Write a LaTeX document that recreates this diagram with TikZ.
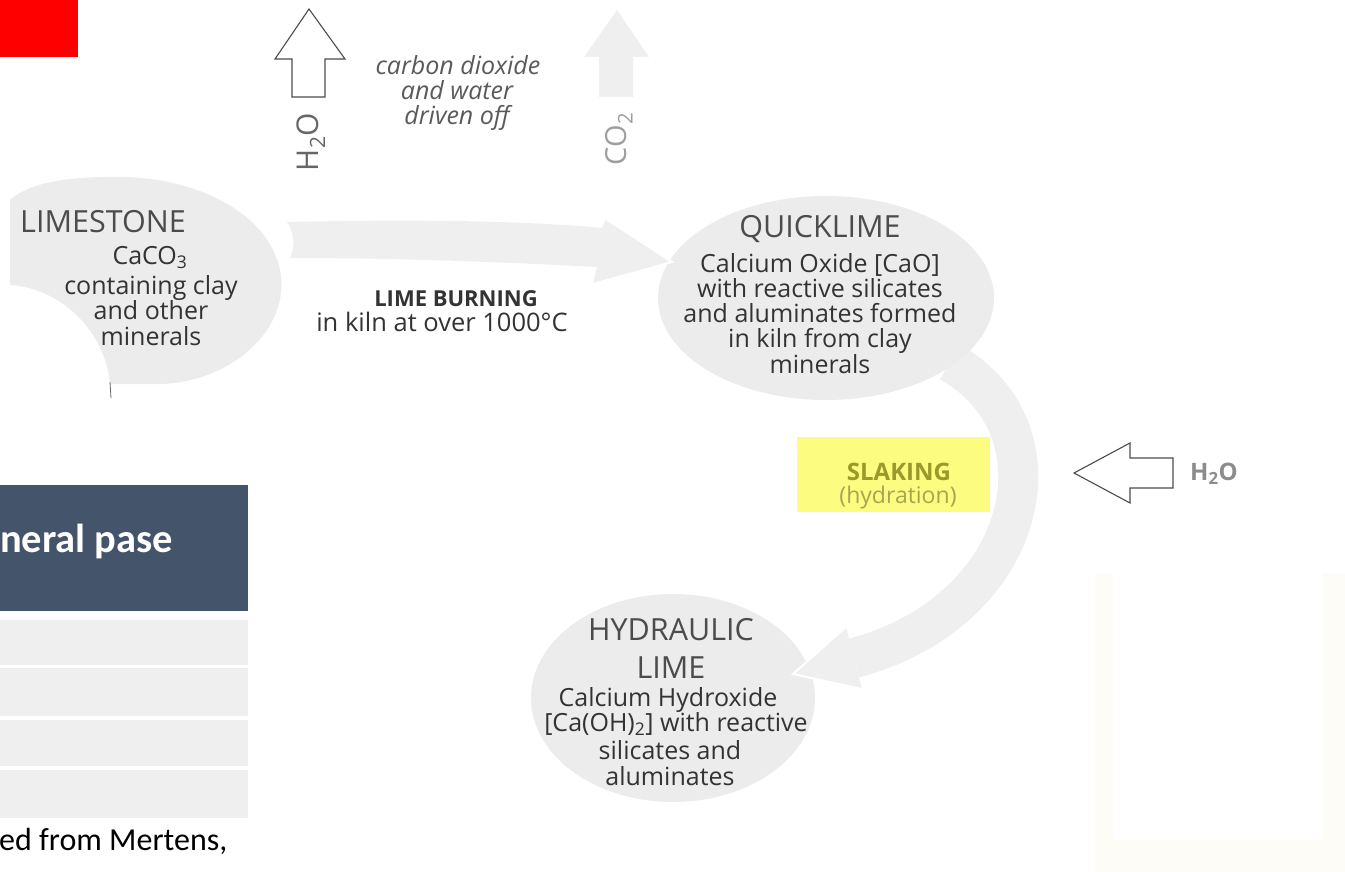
\documentclass[tikz,border=0pt]{standalone}
\usepackage{fontspec}
\setmainfont{Open Sans}
\newfontfamily\calib{Carlito}
\definecolor{blobgray}{HTML}{ECECEC}
\definecolor{arrowgray}{HTML}{EFEFEF}
\definecolor{bodytext}{HTML}{333333}
\definecolor{headtext}{HTML}{4C4C4C}
\definecolor{itext}{HTML}{5A5A5A}
\definecolor{hdrblue}{HTML}{44546A}
\definecolor{rowgray}{HTML}{EFEFEF}
\definecolor{hilite}{HTML}{FCFC80}
\definecolor{olive1}{HTML}{9A9A2C}
\definecolor{olive2}{HTML}{A6A650}
\definecolor{beige}{HTML}{FEFCF7}
\begin{document}
\begin{tikzpicture}[x=1pt,y=-1pt,
  body/.style={font=\fontsize{25}{26}\selectfont, text=bodytext, anchor=base, inner sep=0pt},
  headline/.style={font=\fontsize{30.5}{31}\selectfont, text=headtext, anchor=base, inner sep=0pt},
  itl/.style={font=\itshape\fontsize{25}{26}\selectfont, text=itext, anchor=base, inner sep=0pt},
  outl/.style={draw=black!70, line width=1.1pt, fill=white, line join=miter},
  row/.style={fill=rowgray, draw=none}]
\useasboundingbox (0,0) rectangle (1345,872);
% faint background panel on the right
\fill[beige] (1095,573) rectangle (1345,872);
\fill[white] (1113,573) rectangle (1322,840);
% red box
\fill[red] (0,0) rectangle (78,57);
% top arrows
\draw[outl] (309,9) -- (345,59) -- (325,59) -- (325,97) -- (292,97) -- (292,59) -- (275,59) -- cycle;
\node[rotate=90, font=\fontsize{30}{30}\selectfont, text=black!60, inner sep=0pt] (h2oup) at (311,142) {H\textsubscript{2}O};
\fill[arrowgray] (617,10) -- (649,57) -- (633,57) -- (633,97) -- (599,97) -- (599,57) -- (584,57) -- cycle;
\node[rotate=90, font=\fontsize{29}{29}\selectfont, text=black!38, inner sep=0pt] (co2up) at (619,139) {CO\textsubscript{2}};
\node[itl] (cd1) at (458,75) {carbon dioxide};
\node[itl] (cd2) at (457,100) {and water};
\node[itl] (cd3) at (457,125) {driven off};
% hydraulic lime blob
\fill[blobgray] (673,698) ellipse [x radius=142, y radius=104];
% curved slaking arrow
\draw[arrowgray, line width=40pt] (950,362) .. controls (1070,430) and (1028,612) .. (854,658);
\fill[arrowgray] (846,627) -- (793,674) -- (862,689) -- cycle;
\draw[white, line width=2pt] (846,627) -- (793,674) -- (862,689);
% quicklime blob
\fill[blobgray] (826,298) ellipse [x radius=168, y radius=102];
% horizontal lime-burning arrow
\fill[arrowgray] (287,222) .. controls (420,219) and (530,221) .. (602,228) -- (606,219) -- (672,262) -- (593,284) -- (597,267) .. controls (500,262) and (400,258) .. (290,258) .. controls (295,246) and (295,234) .. (287,222) -- cycle;
\draw[white, line width=2pt] (606,219) -- (672,262) -- (593,284);
% limestone blob
\fill[blobgray] (10,285) -- (10,200) .. controls (30,182) and (70,176) .. (125,177) .. controls (200,179) and (272,215) .. (281,275) .. controls (288,335) and (225,383) .. (160,384) -- (110,384) .. controls (105,330) and (60,288) .. (10,285) -- cycle;
\draw[black!60, line width=0.8pt] (110,382) -- (111,398);
% limestone text
\node[headline, anchor=base west] (lsh) at (20,233) {LIMESTONE};
\node[body] (ls1) at (150,264) {CaCO\textsubscript{3}};
\node[body] (ls2) at (151,294) {containing clay};
\node[body] (ls3) at (151,319) {and other};
\node[body] (ls4) at (151,345) {minerals};
% lime burning
\node[font=\bfseries\fontsize{22}{24}\selectfont, text=bodytext, anchor=base, inner sep=0pt] (lb1) at (456,306) {LIME BURNING};
\node[font=\fontsize{25.5}{26}\selectfont, text=bodytext, anchor=base, inner sep=0pt] (lb2) at (442,331) {in kiln at over 1000°C};
% quicklime text
\node[headline] (qlh) at (820,237) {QUICKLIME};
\node[body] (ql1) at (820,272) {Calcium Oxide [CaO]};
\node[body] (ql2) at (820,297) {with reactive silicates};
\node[body] (ql3) at (820,322) {and aluminates formed};
\node[body] (ql4) at (820,347) {in kiln from clay};
\node[body] (ql5) at (820,373) {minerals};
% slaking
\fill[hilite] (797,437) rectangle (990,512);
\node[font=\bfseries\fontsize{24}{24}\selectfont, text=olive1, anchor=base, inner sep=0pt] (sl1) at (899,480) {SLAKING};
\node[font=\fontsize{23}{24}\selectfont, text=olive2, anchor=base, inner sep=0pt] (sl2) at (898,503) {(hydration)};
% right H2O arrow
\draw[outl] (1074,473) -- (1130,443) -- (1130,458) -- (1173,458) -- (1173,488) -- (1130,488) -- (1130,503) -- cycle;
\node[font=\bfseries\fontsize{24}{24}\selectfont, text=black!45, anchor=west, inner sep=0pt] (h2oin) at (1190,474) {H\textsubscript{2}O};
% hydraulic lime text
\node[headline] (hlh1) at (671,640) {HYDRAULIC};
\node[headline] (hlh2) at (671,678) {LIME};
\node[body] (hl1) at (668,706) {Calcium Hydroxide};
\node[body] (hl2) at (676,731) {[Ca(OH)\textsubscript{2}] with reactive};
\node[body] (hl3) at (670,759) {silicates and};
\node[body] (hl4) at (670,785) {aluminates};
% table
\fill[hdrblue] (0,485) rectangle (248,611);
\node[font=\calib\bfseries\fontsize{40.5}{41}\selectfont, text=white, anchor=base west, inner sep=0pt] (tabh) at (0,552) {neral pase};
\fill[rowgray] (0,620) rectangle (248,665);
\fill[rowgray] (0,668) rectangle (248,716);
\fill[rowgray] (0,720) rectangle (248,766);
\fill[rowgray] (0,770) rectangle (248,818);
\node[font=\calib\fontsize{32}{33}\selectfont, text=black, anchor=base west, inner sep=0pt] (cap) at (-1,850) {ed from Mertens,};
\end{tikzpicture}
\end{document}
